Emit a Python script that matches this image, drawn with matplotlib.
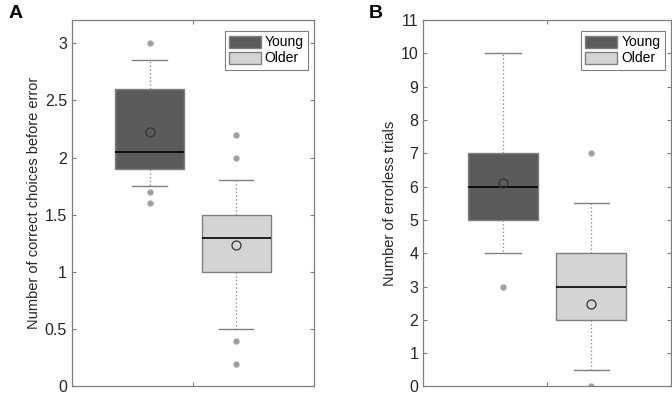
import matplotlib
matplotlib.use("Agg")
import matplotlib.pyplot as plt
from matplotlib.patches import Patch

plt.rcParams['font.family'] = ['Liberation Sans', 'DejaVu Sans']

groups = ["Young", "Older"]
# Panel A: correct choices before error
a_whislo = [1.75, 0.5]
a_q1 = [1.9, 1.0]
a_med = [2.05, 1.3]
a_q3 = [2.6, 1.5]
a_whishi = [2.85, 1.8]
a_mean = [2.22, 1.24]
a_fliers = [[3.0, 1.7, 1.6], [2.2, 2.0, 0.4, 0.2]]
# Panel B: errorless trials
b_whislo = [4, 0.5]
b_q1 = [5, 2]
b_med = [6, 3]
b_q3 = [7, 4]
b_whishi = [10, 5.5]
b_mean = [6.1, 2.48]
b_fliers = [[3], [7, 0]]

colors = ["#5b5b5b", "#d4d4d4"]
edge = "#7f7f7f"
txt = "#262626"

fig = plt.figure(figsize=(6.72, 3.96), dpi=100)
axA = fig.add_axes([0.107, 0.024, 0.36, 0.925])
axB = fig.add_axes([0.630, 0.024, 0.368, 0.925])


def draw(ax, whislo, q1, med, q3, whishi, mean, fliers, ylim, yticks, ylabel, yticklabels):
    stats = []
    for i in range(len(groups)):
        stats.append(dict(whislo=whislo[i], q1=q1[i], med=med[i], q3=q3[i],
                          whishi=whishi[i], mean=mean[i], fliers=fliers[i], label=groups[i]))
    pos = [0.75, 1.25]
    bp = ax.bxp(stats, positions=pos, widths=0.4, patch_artist=True, showmeans=True,
                shownotches=False, manage_ticks=False,
                boxprops=dict(edgecolor=edge, linewidth=1.0),
                medianprops=dict(color="black", linewidth=1.2),
                whiskerprops=dict(color=edge, linestyle=(0, (1, 2)), linewidth=0.9),
                capprops=dict(color=edge, linewidth=1.0),
                capwidths=0.2,
                flierprops=dict(marker='o', markersize=3.5, markerfacecolor="#a0a0a0",
                                markeredgecolor="#a0a0a0", linestyle='none'),
                meanprops=dict(marker='o', markersize=6.5, markerfacecolor='none',
                               markeredgecolor="#333333", markeredgewidth=0.9))
    for patch, c in zip(bp['boxes'], colors):
        patch.set_facecolor(c)
    ax.set_xlim(0.3, 1.7)
    ax.set_ylim(*ylim)
    ax.set_xticks([1])
    ax.set_xticklabels([""])
    ax.set_yticks(yticks)
    ax.set_yticklabels(yticklabels)
    ax.tick_params(direction='in', length=3, width=0.8, colors=edge, labelcolor=txt,
                   labelsize=11.5, top=True, right=True)
    for s in ax.spines.values():
        s.set_color(edge)
        s.set_linewidth(0.9)
    ax.set_ylabel(ylabel, fontsize=10.5, color=txt, labelpad=3)
    handles = [Patch(facecolor=colors[i], edgecolor=edge, label=groups[i]) for i in range(2)]
    leg = ax.legend(handles=handles, loc='upper right', fontsize=10, fancybox=False,
                    framealpha=1, edgecolor=edge, handlelength=2.3, handleheight=0.95,
                    borderpad=0.3, labelspacing=0.15, handletextpad=0.3,
                    borderaxespad=0, bbox_to_anchor=(0.976, 0.970))
    leg.get_frame().set_linewidth(0.8)


draw(axA, a_whislo, a_q1, a_med, a_q3, a_whishi, a_mean, a_fliers, (0, 3.2),
     [0, 0.5, 1, 1.5, 2, 2.5, 3], "Number of correct choices before error",
     ["0", "0.5", "1", "1.5", "2", "2.5", "3"])
draw(axB, b_whislo, b_q1, b_med, b_q3, b_whishi, b_mean, b_fliers, (0, 11),
     list(range(12)), "Number of errorless trials", [str(i) for i in range(12)])

fig.text(0.012, 0.965, "A", fontsize=14, fontweight='bold', va='center', ha='left')
fig.text(0.548, 0.965, "B", fontsize=14, fontweight='bold', va='center', ha='left')

fig.savefig("out.png", dpi=100)
